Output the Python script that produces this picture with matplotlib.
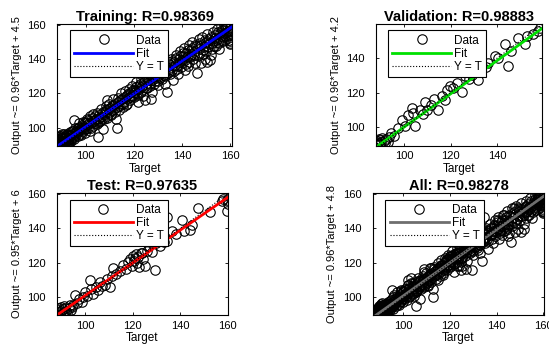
import numpy as np
import matplotlib
matplotlib.use("Agg")
import matplotlib.pyplot as plt

plt.rcParams['font.family'] = ['Liberation Sans', 'DejaVu Sans']

# ---------------- DATA ----------------
train_target = [88.3, 88.5, 88.6, 88.8, 89.0, 89.2, 89.4, 89.5, 89.7, 89.9, 90.0, 90.1, 90.3, 90.5, 90.6,
                90.8, 90.9, 91.0, 91.2, 91.3, 91.5, 91.7, 92.0, 92.2, 92.5, 92.6, 92.8, 93.0, 93.3, 93.6,
                94.0, 94.3, 94.7, 95.0, 95.1, 95.5, 96.0, 96.4, 96.8, 97.2, 97.6, 98.0, 98.5, 99.0, 99.4,
                99.8, 100.2, 100.7, 101.1, 101.6, 102.0, 102.5, 103.0, 103.5, 104.0, 104.5, 105.0, 105.2,
                105.6, 106.0, 106.5, 107.0, 107.5, 108.0, 108.5, 108.9, 109.0, 109.5, 110.0, 110.5, 111.0,
                111.5, 112.0, 112.8, 113.0, 113.5, 114.0, 114.5, 115.0, 115.5, 116.0, 116.5, 117.0, 117.5,
                118.0, 118.5, 119.0, 119.5, 120.0, 120.5, 121.0, 121.5, 122.0, 122.5, 123.0, 123.5, 124.0,
                124.5, 125.0, 125.5, 126.0, 126.5, 127.0, 127.5, 128.0, 128.5, 129.0, 129.5, 130.0, 130.5,
                131.0, 131.5, 132.0, 132.5, 133.0, 133.6, 134.0, 134.5, 135.0, 135.5, 136.0, 136.5, 137.0,
                137.5, 138.0, 138.5, 139.0, 139.5, 140.0, 140.5, 141.0, 141.5, 142.0, 142.5, 143.0, 143.5,
                144.0, 144.5, 145.0, 145.5, 146.2, 146.5, 147.0, 147.5, 148.0, 148.5, 149.0, 149.5, 150.0,
                150.5, 151.0, 151.6, 152.0, 152.5, 153.0, 153.5, 154.0, 154.5, 155.0, 155.5, 156.0, 156.5,
                157.0, 157.5, 158.0, 158.5, 159.0, 159.5, 159.8, 160.0, 160.0, 160.0, 160.0,
                88.4, 88.9, 89.3, 89.8, 90.2, 90.4, 90.7, 91.1, 91.4, 91.9, 92.3, 92.7, 93.1, 93.4, 93.8,
                94.2, 94.5, 95.3, 95.7, 96.2, 96.6, 97.0, 97.4, 97.9, 98.3, 98.8, 99.2, 99.6, 100.0, 100.5,
                100.9, 101.4, 101.8, 102.3, 102.8, 103.2, 103.7, 104.2, 104.8, 105.3, 105.8, 106.3, 106.8,
                107.3, 107.8, 108.3, 108.8, 109.3, 109.8, 110.3, 110.8, 111.3, 111.8, 112.3, 112.6, 113.3,
                113.8, 114.3, 114.8, 115.3, 115.8, 116.3, 116.8, 117.3, 117.8, 118.3, 118.8, 119.3, 119.8,
                120.3, 120.8, 121.3, 121.8, 122.3, 122.8, 123.3, 123.8, 124.3, 124.8, 125.3, 125.8, 126.3,
                126.8, 127.3, 127.8, 128.3, 128.8, 129.3, 129.8, 130.3, 130.8, 131.3, 131.8, 132.3, 132.8,
                133.3, 133.8, 134.3, 134.8, 135.3, 135.8, 136.3, 136.8, 137.3, 137.8, 138.3, 138.8, 139.3,
                139.8, 140.3, 140.8, 141.3, 141.8, 142.3, 142.8, 143.3, 143.8, 144.3, 144.8, 145.3, 145.8,
                146.8, 147.3, 147.8, 148.3, 148.8, 149.3, 149.8, 150.3, 150.8, 151.3, 151.8, 152.3, 152.8,
                153.3, 153.8, 154.3, 154.8, 155.3, 155.8, 156.3, 156.8, 157.3, 157.8, 158.3, 158.8, 159.2,
                159.6, 160.0, 160.0]
train_output = [89.3, 90.2, 92.5, 91.5, 89.6, 92.8, 91.0, 90.8, 93.9, 95.0, 91.2, 89.8, 94.6, 92.1, 89.4,
                90.5, 96.4, 93.2, 95.3, 90.6, 91.7, 89.9, 92.9, 96.1, 94.0, 90.2, 91.3, 93.5, 97.2, 95.0,
                92.4, 96.0, 98.1, 94.2, 104.3, 97.0, 95.5, 99.1, 97.4, 100.6, 96.2, 98.9, 101.7, 97.8, 100.2,
                103.0, 99.1, 101.6, 104.4, 98.2, 102.5, 105.3, 100.9, 103.8, 106.6, 102.2, 105.0, 94.7,
                107.5, 103.6, 106.2, 109.1, 104.8, 107.7, 110.4, 116.2, 105.6, 108.8, 111.6, 107.3, 110.2,
                113.4, 109.0, 99.8, 112.1, 115.0, 110.3, 113.6, 116.8, 112.0, 115.2, 118.5, 114.0, 117.2,
                120.4, 115.8, 118.9, 122.1, 117.6, 120.6, 123.7, 119.0, 122.4, 125.6, 120.5, 124.0, 127.3,
                116.0, 122.8, 126.0, 129.0, 124.1, 116.5, 127.6, 130.8, 125.5, 129.2, 132.4, 127.0, 130.6,
                133.9, 128.3, 132.1, 135.5, 130.0, 121.0, 133.5, 137.0, 131.2, 135.2, 138.8, 132.8, 136.5,
                140.4, 134.0, 138.2, 142.0, 135.5, 139.5, 143.4, 133.6, 137.0, 141.2, 145.0, 138.4, 142.6,
                146.5, 140.0, 144.1, 148.0, 132.1, 141.5, 145.7, 149.6, 137.8, 143.0, 147.2, 151.2, 144.6,
                138.0, 148.9, 139.5, 152.6, 146.0, 150.3, 154.2, 147.6, 151.8, 155.6, 149.2, 153.4, 157.0,
                150.8, 155.0, 158.5, 160.0, 152.4, 156.6, 148.8, 155.2, 150.3, 153.8, 158.0,
                93.1, 90.0, 94.8, 91.9, 96.0, 90.9, 93.7, 91.0, 94.4, 92.6, 95.4, 93.0, 90.8, 95.9, 93.4,
                97.7, 94.9, 93.1, 99.8, 97.9, 94.9, 98.3, 102.9, 95.6, 100.4, 103.5, 99.0, 96.9, 102.7, 104.9,
                100.0, 102.9, 106.8, 99.9, 103.7, 107.9, 102.4, 104.9, 108.6, 103.0, 106.4, 110.9, 105.0,
                99.0, 108.9, 112.4, 106.5, 110.6, 113.9, 108.1, 112.3, 116.7, 110.6, 113.9, 104.8, 117.5,
                112.6, 116.2, 120.1, 114.0, 117.1, 121.3, 112.9, 118.9, 122.6, 117.7, 120.7, 124.2, 118.3,
                122.0, 126.8, 120.2, 114.8, 124.5, 128.3, 122.1, 118.2, 126.5, 129.8, 123.3, 127.6, 131.4,
                125.5, 120.8, 129.6, 133.1, 127.2, 131.0, 124.6, 134.2, 129.0, 132.7, 136.5, 130.6, 125.4,
                135.1, 138.6, 132.1, 136.6, 140.2, 133.7, 127.9, 138.4, 142.5, 136.0, 131.4, 140.3, 144.7,
                137.8, 141.7, 146.6, 139.2, 143.8, 135.9, 147.9, 140.9, 145.0, 150.2, 142.3, 137.4, 147.4,
                151.6, 143.6, 148.3, 153.0, 145.2, 139.8, 150.0, 154.5, 146.9, 151.6, 142.2, 149.5, 155.8,
                147.8, 152.2, 157.4, 150.2, 145.9, 154.9, 159.1, 152.6, 157.2, 151.0, 155.6, 159.4, 153.6,
                151.2, 156.8, 149.4]

val_target = [88.3, 88.6, 88.9, 89.2, 89.5, 89.9, 90.3, 90.7, 91.2, 91.8, 92.4, 93.0, 93.5, 94.4, 95.5,
              97.6, 99.0, 100.3, 101.9, 103.3, 104.0, 104.7, 106.9, 108.0, 109.0, 109.8, 111.5, 113.0,
              114.7, 116.2, 117.5, 118.3, 119.8, 121.0, 122.8, 124.8, 126.2, 128.0, 129.1, 131.9, 133.0,
              135.0, 136.2, 139.1, 140.5, 143.4, 144.8, 146.0, 149.1, 151.9, 152.7, 155.5, 157.5, 158.6]
val_output = [90.5, 92.4, 91.2, 93.6, 90.2, 92.8, 91.5, 94.0, 92.2, 90.8, 93.4, 91.8, 94.5, 96.7, 94.9,
              99.6, 104.4, 100.8, 107.3, 111.2, 108.2, 100.6, 110.2, 107.5, 114.5, 110.2, 112.8, 116.4,
              110.2, 118.0, 116.0, 121.8, 123.8, 122.5, 125.6, 120.3, 129.5, 128.2, 130.5, 127.6, 131.8,
              134.6, 137.3, 141.2, 139.8, 147.9, 135.4, 144.2, 151.8, 147.9, 152.7, 153.7, 155.5, 157.2]

test_target = [88.3, 88.5, 88.8, 89.1, 89.4, 89.7, 90.0, 90.3, 90.6, 91.0, 91.3, 91.7, 92.1, 92.5, 93.0,
               93.5, 94.0, 94.6, 95.0, 95.8, 96.5, 97.5, 98.5, 99.2, 100.0, 100.8, 102.1, 102.5, 103.5,
               104.5, 105.5, 106.3, 107.0, 108.4, 109.0, 110.5, 111.2, 111.9, 113.0, 114.5, 116.0, 117.2,
               118.0, 118.8, 119.5, 120.0, 120.5, 121.0, 121.5, 122.0, 122.4, 122.8, 123.3, 123.8, 124.5,
               125.2, 126.0, 127.0, 128.0, 129.4, 130.0, 131.5, 133.0, 134.3, 134.5, 136.4, 138.0, 140.6,
               141.5, 144.1, 144.8, 147.6, 152.5, 157.4, 158.0, 159.5, 159.5, 160.0]
test_output = [90.0, 92.6, 91.3, 93.8, 90.6, 94.6, 92.0, 90.3, 93.1, 95.2, 91.4, 94.0, 92.3, 90.7, 93.6,
               95.6, 92.8, 94.4, 95.5, 101.4, 96.8, 99.0, 97.2, 100.2, 103.4, 101.0, 110.1, 104.8, 102.0,
               106.2, 104.0, 109.2, 106.5, 107.2, 110.8, 106.3, 112.4, 116.9, 113.6, 115.0, 118.8, 116.2,
               120.5, 122.0, 118.4, 123.8, 121.2, 122.7, 124.9, 120.0, 123.5, 117.8, 125.9, 125.6, 122.4,
               117.9, 127.0, 129.6, 126.4, 115.9, 131.5, 129.8, 132.2, 132.4, 146.5, 138.2, 136.5, 145.0,
               138.4, 139.2, 142.1, 151.8, 149.6, 155.7, 157.0, 156.6, 149.9, 154.0]

all_target = train_target + val_target + test_target
all_output = train_output + val_output + test_output

titles = ["Training: R=0.98369", "Validation: R=0.98883", "Test: R=0.97635", "All: R=0.98278"]
ylabels = ["Output ~= 0.96*Target + 4.5", "Output ~= 0.96*Target + 4.2",
           "Output ~= 0.95*Target + 6", "Output ~= 0.96*Target + 4.8"]
fit_slope = [0.96, 0.96, 0.95, 0.96]
fit_icpt = [4.5, 4.2, 6, 4.8]
fit_colors = ["#0000ff", "#00e000", "#ff0000", "#6e6e6e"]
targets = [train_target, val_target, test_target, all_target]
outputs = [train_output, val_output, test_output, all_output]
tick_vals = [100, 120, 140, 160]

# axes geometry (fig fractions) and limits
positions = [[0.104, 0.582, 0.319, 0.350], [0.685, 0.582, 0.302, 0.350],
             [0.104, 0.097, 0.311, 0.350], [0.679, 0.097, 0.312, 0.350]]
xlims = [(88.1, 160.8), (88.0, 159.2), (88.2, 160.0), (86.8, 160.4)]
ylims = [(89.3, 160.6), (89.4, 159.8), (89.7, 160.5), (89.5, 160.5)]

fig = plt.figure(figsize=(5.49, 3.49), dpi=100)

for i in range(4):
    ax = fig.add_axes(positions[i])
    x0, x1 = xlims[i]
    xs = np.array([x0, x1])
    ax.plot(targets[i], outputs[i], 'o', mfc='none', mec='k', ms=6.8, mew=0.8, label='Data')
    ax.plot(xs, fit_slope[i] * xs + fit_icpt[i], color=fit_colors[i], lw=2, label='Fit')
    ax.plot(xs, xs, ':', color='k', lw=0.8, label='Y = T')
    ax.set_xlim(xlims[i])
    ax.set_ylim(ylims[i])
    ax.set_xticks([t for t in tick_vals if x0 <= t <= x1])
    ax.set_yticks([t for t in tick_vals if ylims[i][0] <= t <= ylims[i][1]])
    ax.tick_params(direction='in', top=True, right=True, labelsize=8, length=2.5, width=0.6)
    ax.tick_params(axis='y', pad=8)
    ax.tick_params(axis='x', pad=4)
    for s in ax.spines.values():
        s.set_linewidth(0.8)
    ax.set_title(titles[i], fontsize=10.5, fontweight='bold', pad=2)
    ax.set_xlabel("Target", fontsize=8.5, labelpad=1)
    ax.set_ylabel(ylabels[i], fontsize=8, labelpad=4)
    leg = ax.legend(loc='upper left', bbox_to_anchor=(0.074, 0.945), borderaxespad=0,
                    fontsize=8.5, handlelength=5.0, numpoints=1, fancybox=False, framealpha=1,
                    edgecolor='k', labelspacing=0.1, handletextpad=0.25, borderpad=0.35)
    leg.get_frame().set_linewidth(0.8)

fig.savefig("out.png", dpi=100)
